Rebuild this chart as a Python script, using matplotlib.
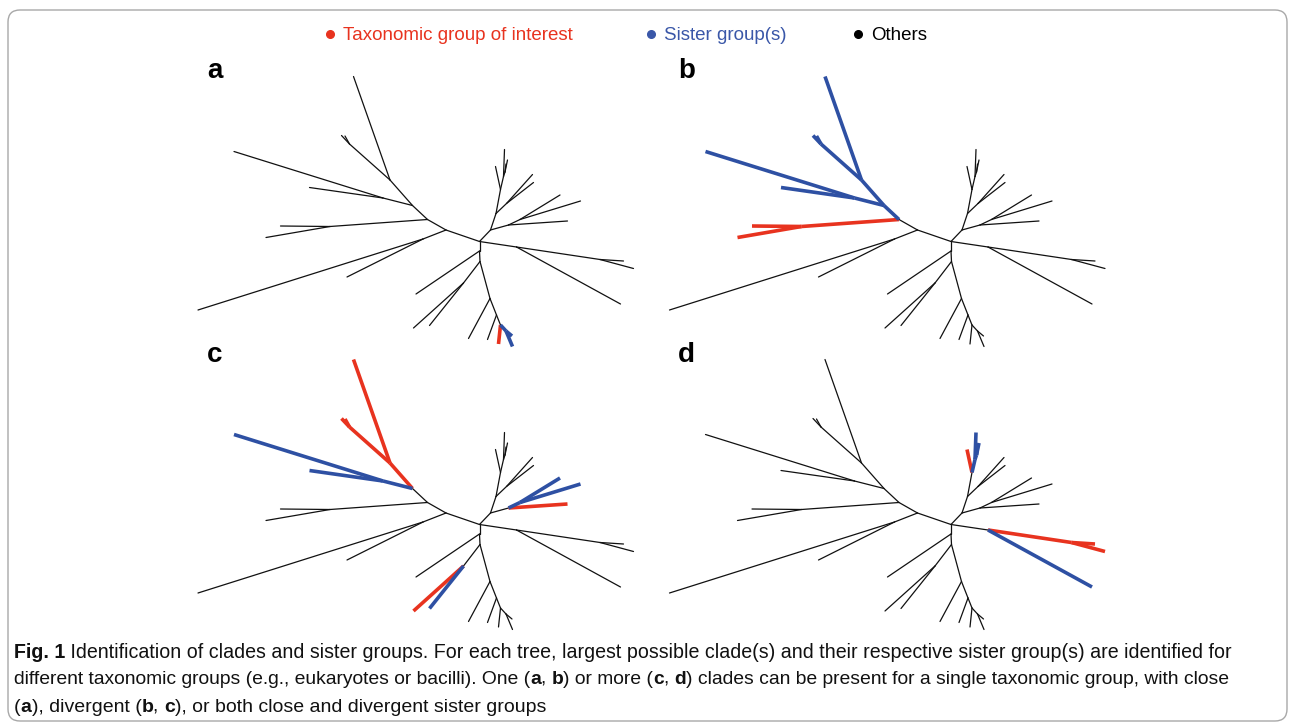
import matplotlib
matplotlib.use('Agg')
import matplotlib.pyplot as plt
from matplotlib.collections import LineCollection
from matplotlib.patches import FancyBboxPatch

RED = '#E8331F'
BLUE = '#2E50A3'

# unrooted tree layout: node offsets from the central node (px) and parent index
node_x = [0, -33.5, -56.5, -281.5, -132.5, -52, -149.5, -199, -213.5, -67,
          -96.5, -245.5, -170, -89.5, -126, -130, -138, -134.5,
          11, 29, 88, 40.5, 101, 80.5, 16.5, 27, 53, 54, 21, 16, 24, 25, 25.5, 28, 26.5,
          37, 141, 120.5, 144, 154,
          0, -63.5, 0.5, -16, -66, -50, 10.5, -11, 17, 8, 21, 19, 26.5, 33, 32.5]
node_y = [0, -11.5, -2.5, 68.5, 35.5, -22, -15, -15.5, -4, -36,
          -43.5, -90, -54, -61.5, -165, -97.5, -106, -105.5,
          -11.5, -16.5, -20.5, -22, -40.5, -46.5, -28, -38, -67, -59, -52, -75, -65, -92, -69.5, -81.5, -77.5,
          5.5, 62.5, 18, 19.5, 27,
          9.5, 52.5, 20, 41.5, 86.5, 84, 57, 97, 73.5, 98, 83.5, 102.5, 89.5, 105, 94.5]
parent = [-1, 0, 1, 2, 2, 1, 5, 6, 6, 5,
          9, 10, 10, 9, 13, 13, 15, 15,
          0, 18, 19, 19, 21, 21, 18, 24, 25, 25, 24, 28, 28, 30, 30, 32, 32,
          0, 35, 35, 37, 37,
          0, 40, 40, 42, 43, 43, 42, 46, 46, 48, 48, 50, 50, 52, 52]

# branch colouring per panel, keyed by the child node of each branch
red_a, blue_a = [51], [52, 53, 54]
red_b, blue_b = [6, 7, 8], [9, 10, 11, 12, 13, 14, 15, 16, 17]
red_c, blue_c = [13, 14, 15, 16, 17, 20, 44], [10, 11, 12, 21, 22, 23, 45]
red_d, blue_d = [29, 37, 38, 39], [30, 31, 32, 33, 34, 36]

panels = [('a', (479.5, 241.5), red_a, blue_a),
          ('b', (951.0, 241.5), red_b, blue_b),
          ('c', (479.5, 524.5), red_c, blue_c),
          ('d', (951.0, 524.5), red_d, blue_d)]

legend_labels = ['Taxonomic group of interest', 'Sister group(s)', 'Others']
legend_colors = [RED, '#3A57A8', 'black']

caption_lines = [
    [('Fig. 1', True), (' Identification of clades and sister groups. For each tree, largest possible clade(s) '
                        'and their respective sister group(s) are identified for', False)],
    [('different taxonomic groups (e.g., eukaryotes or bacilli). One (', False), ('a', True), (', ', False),
     ('b', True), (') or more (', False), ('c', True), (', ', False), ('d', True),
     (') clades can be present for a single taxonomic group, with close', False)],
    [('(', False), ('a', True), ('), divergent (', False), ('b', True), (', ', False), ('c', True),
     ('), or both close and divergent sister groups', False)],
]

fig = plt.figure(figsize=(12.9, 7.28), dpi=100)
ax = fig.add_axes([0, 0, 1, 1])
ax.set_xlim(0, 1290)
ax.set_ylim(728, 0)
ax.axis('off')

ax.add_patch(FancyBboxPatch((8, 10), 1279, 711, boxstyle='round,pad=0,rounding_size=12',
                            fc='none', ec='#a8a8a8', lw=1.0))


def draw_tree(cx, cy, reds, blues):
    segs = {'k': [], 'r': [], 'b': []}
    for i, p in enumerate(parent):
        if p < 0:
            continue
        seg = [(cx + node_x[p], cy + node_y[p]), (cx + node_x[i], cy + node_y[i])]
        key = 'r' if i in reds else ('b' if i in blues else 'k')
        segs[key].append(seg)
    ax.add_collection(LineCollection(segs['k'], colors='#111111', linewidths=0.9, capstyle='round'))
    ax.add_collection(LineCollection(segs['r'], colors=RED, linewidths=2.6, capstyle='butt', joinstyle='round'))
    ax.add_collection(LineCollection(segs['b'], colors=BLUE, linewidths=2.6, capstyle='butt', joinstyle='round'))


for letter, (cx, cy), reds, blues in panels:
    draw_tree(cx, cy, reds, blues)
    ax.text(cx - 264.5, cy - 170, letter, fontsize=20, fontweight='bold', family='Liberation Sans',
            ha='center', va='center')

# legend row
for lx, lab, col in zip([330, 651, 858], legend_labels, legend_colors):
    ax.plot(lx, 34, 'o', ms=5.5, color=col)
    ax.text(lx + 13, 35, lab, color=col, fontsize=13.5, family='Liberation Sans', va='center', ha='left')

# caption, drawn piece by piece so the bold fragments sit inline
renderer = fig.canvas.get_renderer()
cap_family = 'Liberation Sans'


def draw_line(parts, size, y, keep=True):
    x = 14
    for s, bold in parts:
        t = ax.text(x, y, s, fontsize=size, fontweight='bold' if bold else 'normal',
                    family=cap_family, va='center', ha='left', color='#111111')
        x += t.get_window_extent(renderer).width
        if not keep:
            t.remove()
    return x - 14


def fit_size(parts, target):
    size = 14.0
    for _ in range(4):
        size *= target / draw_line(parts, size, 0, keep=False)
    return size


# the first two lines run the full text width
sizes = [fit_size(caption_lines[k], 1218) for k in (0, 1)]
sizes.append(sum(sizes) / 2)
for row, parts in enumerate(caption_lines):
    draw_line(parts, sizes[row], 652 + row * 27.5)

fig.savefig('out.png', dpi=100)
